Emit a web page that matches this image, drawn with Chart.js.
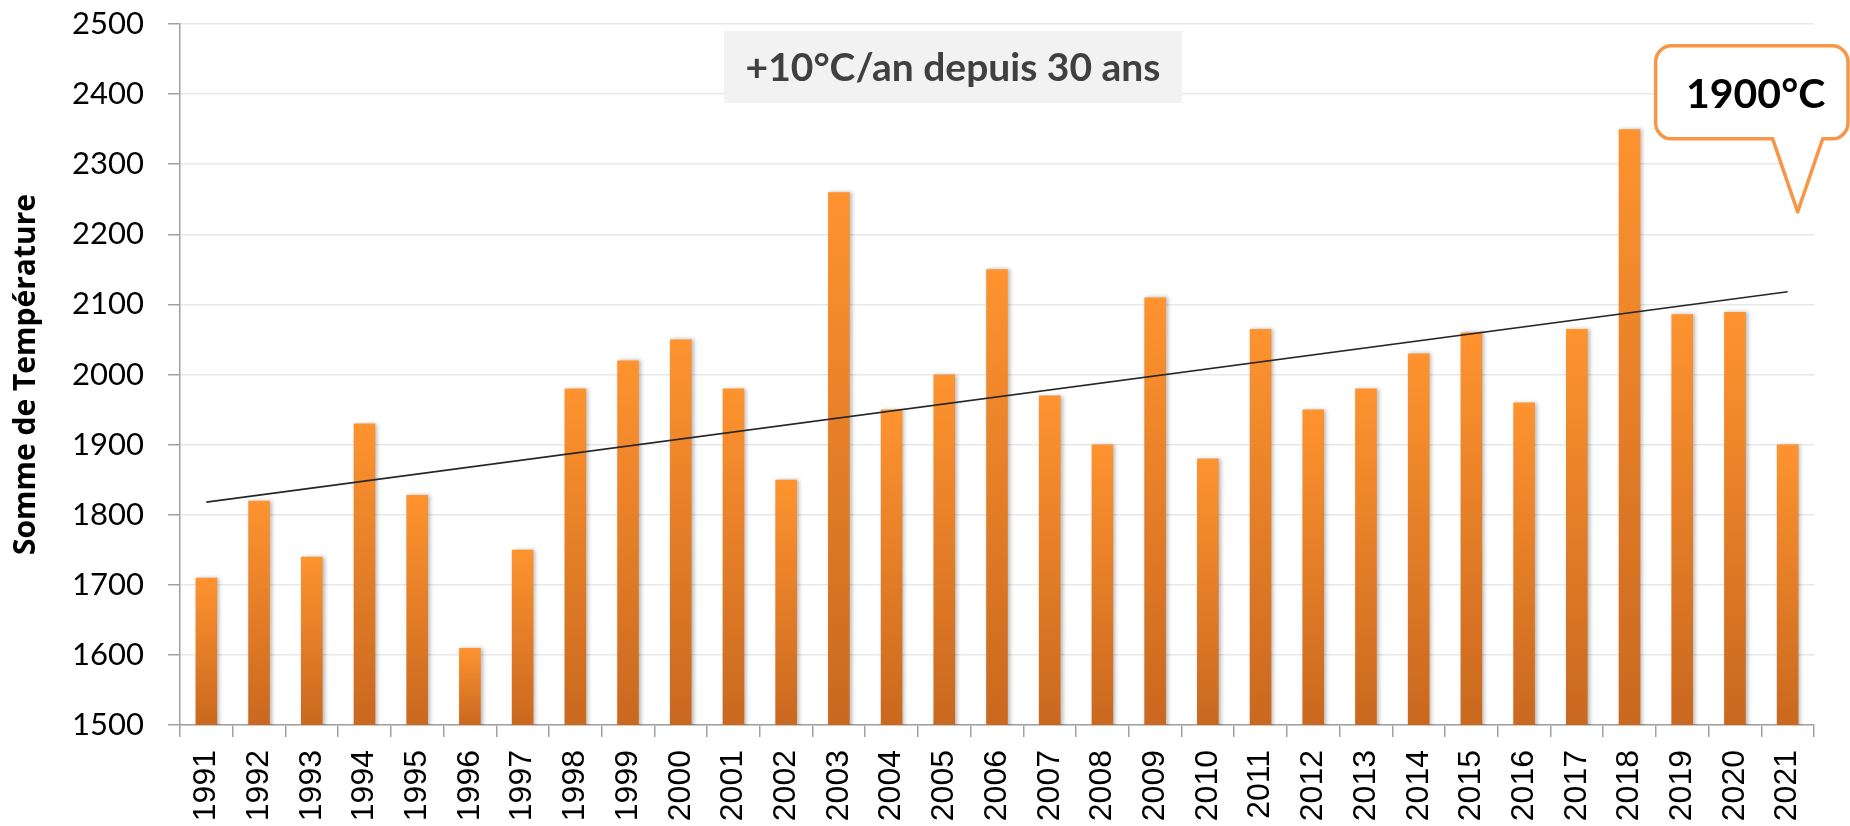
<!DOCTYPE html>
<html>
<head>
<meta charset="utf-8">
<script src="https://cdn.jsdelivr.net/npm/chart.js@4.4.1/dist/chart.umd.min.js"></script>
<style>
    html, body { margin: 0; padding: 0; background: #fff; }
    #wrap { width: 1850px; height: 826px; position: relative; }
</style>
</head>
<body>
<div id="wrap"><canvas id="chart"></canvas></div>
<script>
// Years on the category axis
const years = ['1991', '1992', '1993', '1994', '1995', '1996', '1997', '1998', '1999', '2000',
    '2001', '2002', '2003', '2004', '2005', '2006', '2007', '2008', '2009', '2010',
    '2011', '2012', '2013', '2014', '2015', '2016', '2017', '2018', '2019', '2020', '2021'];

// Sum of temperatures per year
const sums = [1710, 1820, 1740, 1930, 1828, 1610, 1750, 1980, 2020, 2050,
    1980, 1850, 2260, 1950, 2000, 2150, 1970, 1900, 2110, 1880,
    2065, 1950, 1980, 2030, 2060, 1960, 2065, 2350, 2086, 2089, 1900];

// Trend line: only its two end points are given
const trend = [1818, null, null, null, null, null, null, null, null, null,
    null, null, null, null, null, null, null, null, null, null,
    null, null, null, null, null, null, null, null, null, null, 2118];

// Y axis range
const yMin = 1500;
const yMax = 2500;
const yStep = 100;

const trendNote = '+10°C/an depuis 30 ans';
const calloutText = '1900°C';
const calloutTarget = { index: 30, value: 2232 };

/**
 * Vertical gradient for each bar, from its own top to the axis.
 */
function barGradient(context) {
    const chart = context.chart;
    if (!chart.chartArea || context.type !== 'data') return '#f28a2e';
    const scale = chart.scales.y;
    const top = scale.getPixelForValue(context.raw);
    const base = scale.getPixelForValue(yMin);
    const g = chart.ctx.createLinearGradient(0, top, 0, base);
    g.addColorStop(0, '#fe932f');
    g.addColorStop(1, '#c9681f');
    return g;
}

// Soft shadow behind the bars
const barShadow = {
    id: 'barShadow',
    beforeDatasetDraw(chart, args) {
        if (args.meta.type !== 'bar') return;
        const ctx = chart.ctx;
        ctx.save();
        ctx.shadowColor = 'rgba(0, 0, 0, 0.28)';
        ctx.shadowBlur = 4;
        ctx.shadowOffsetX = 2;
        ctx.shadowOffsetY = 0;
    },
    afterDatasetDraw(chart, args) {
        if (args.meta.type !== 'bar') return;
        chart.ctx.restore();
    }
};

// Grey note box at the top and the orange speech bubble
const notes = {
    id: 'notes',
    afterDraw(chart) {
        const ctx = chart.ctx;
        const x = chart.scales.x;
        const y = chart.scales.y;

        // note box
        ctx.save();
        const cx = 953, cy = 67;
        ctx.fillStyle = '#f2f2f2';
        ctx.fillRect(cx - 229, cy - 36, 458, 72);
        ctx.fillStyle = '#404040';
        ctx.font = 'bold 39px Lato';
        ctx.textAlign = 'center';
        ctx.textBaseline = 'middle';
        ctx.fillText(trendNote, cx, cy + 1);
        ctx.restore();

        // speech bubble
        const tipX = x.getPixelForValue(calloutTarget.index) + 10;
        const tipY = y.getPixelForValue(calloutTarget.value);
        const left = tipX - 142, right = 1848, top = tipY - 166, bottom = tipY - 73;
        const r = 16;
        ctx.save();
        ctx.beginPath();
        ctx.moveTo(left + r, top);
        ctx.lineTo(right - r, top);
        ctx.arcTo(right, top, right, top + r, r);
        ctx.lineTo(right, bottom - r);
        ctx.arcTo(right, bottom, right - r, bottom, r);
        ctx.lineTo(tipX + 25, bottom);
        ctx.lineTo(tipX, tipY);
        ctx.lineTo(tipX - 25, bottom);
        ctx.lineTo(left + r, bottom);
        ctx.arcTo(left, bottom, left, bottom - r, r);
        ctx.lineTo(left, top + r);
        ctx.arcTo(left, top, left + r, top, r);
        ctx.closePath();
        ctx.fillStyle = '#ffffff';
        ctx.fill();
        ctx.lineWidth = 3.5;
        ctx.lineJoin = 'round';
        ctx.strokeStyle = '#f79646';
        ctx.stroke();
        ctx.fillStyle = '#000';
        ctx.font = 'bold 41px Lato';
        ctx.textAlign = 'center';
        ctx.textBaseline = 'middle';
        ctx.fillText(calloutText, left + 100, (top + bottom) / 2 + 2);
        ctx.restore();
    }
};

const ctx = document.getElementById('chart').getContext('2d');
new Chart(ctx, {
    data: {
        labels: years,
        datasets: [{
            type: 'line',
            label: 'Tendance',
            data: trend,
            spanGaps: true,
            borderColor: '#262626',
            borderWidth: 1.6,
            pointRadius: 0,
            fill: false,
            order: 0
        }, {
            type: 'bar',
            label: 'Somme de Température',
            data: sums,
            backgroundColor: barGradient,
            borderWidth: 0,
            barPercentage: 0.41,
            categoryPercentage: 1,
            order: 1
        }]
    },
    options: {
        responsive: true,
        maintainAspectRatio: false,
        animation: false,
        layout: {
            padding: { top: 24, right: 36, bottom: 0, left: 0 }
        },
        plugins: {
            legend: { display: false },
            tooltip: { enabled: false }
        },
        scales: {
            x: {
                ticks: {
                    minRotation: 90,
                    maxRotation: 90,
                    autoSkip: false,
                    padding: 13,
                    color: '#000',
                    font: { family: 'Liberation Sans', size: 32 }
                },
                grid: {
                    offset: true,
                    drawOnChartArea: false,
                    tickLength: 12,
                    color: '#a0a0a0',
                    lineWidth: 1.5
                },
                border: { color: '#a0a0a0', width: 1.5 },
                afterFit(scale) { scale.height = 101; }
            },
            y: {
                min: yMin,
                max: yMax,
                ticks: {
                    stepSize: yStep,
                    padding: 24,
                    color: '#000',
                    font: { family: 'Lato', size: 31 },
                    callback: value => String(value)
                },
                grid: {
                    color: '#e8e8e8',
                    lineWidth: 1.5,
                    tickLength: 12,
                    tickColor: '#a0a0a0',
                    tickWidth: 1.5
                },
                border: { color: '#a0a0a0', width: 1.5 },
                title: {
                    display: true,
                    text: 'Somme de Température',
                    color: '#000',
                    font: { family: 'Open Sans', weight: 'bold', size: 30 },
                    padding: { top: 8, bottom: 0 }
                },
                afterFit(scale) {
                    scale.width = 180;
                    // let the layout padding decide the top and bottom of the plot
                    scale.paddingTop = 0;
                    scale.paddingBottom = 0;
                }
            }
        }
    },
    plugins: [barShadow, notes]
});
</script>
</body>
</html>
